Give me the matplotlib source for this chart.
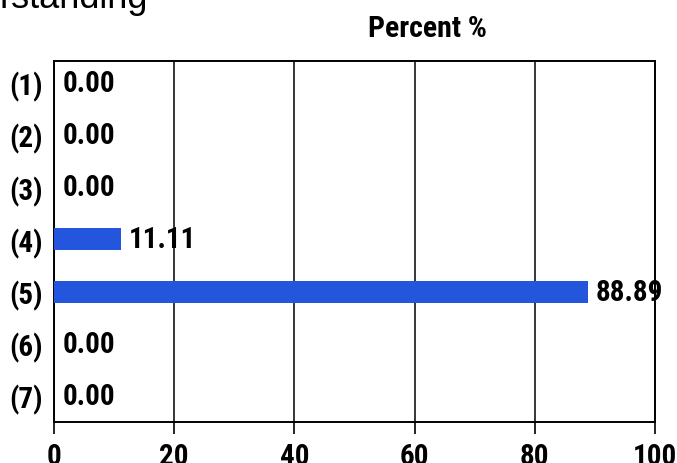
import numpy as np
import matplotlib
matplotlib.use('Agg')
import matplotlib.pyplot as plt
from matplotlib import font_manager

# data
categories = ['(1)', '(2)', '(3)', '(4)', '(5)', '(6)', '(7)']
percent = [0.00, 0.00, 0.00, 11.11, 88.89, 0.00, 0.00]
x_ticks = [0, 20, 40, 60, 80, 100]

# pick a narrow bold face, the chart uses one
names = {f.name for f in font_manager.fontManager.ttflist}
narrow = 'DejaVu Sans'
for cand in ['Arial Narrow', 'Liberation Sans Narrow', 'Roboto Condensed',
             'Archivo Narrow', 'PT Sans Narrow', 'Asap Condensed']:
    if cand in names:
        narrow = cand
        break

fig = plt.figure(figsize=(6.77, 4.64), dpi=100)
W, H = 677, 464
ax = fig.add_axes([54 / W, 1 - 423 / H, (655 - 54) / W, (423 - 62) / H])

y = np.arange(len(categories))
ax.barh(y, percent, height=0.42, color='#2356dc', zorder=3)

ax.set_xlim(0, 100)
ax.set_ylim(6.5, -0.42)
ax.set_xticks(x_ticks)
ax.set_xticklabels([str(t) for t in x_ticks], fontfamily=narrow, fontweight='bold', fontsize=21)
ax.set_yticks(y)
ax.set_yticklabels(categories, fontfamily=narrow, fontweight='bold', fontsize=21)
ax.tick_params(axis='x', direction='out', length=8.6, width=1.2, pad=5.5)
ax.tick_params(axis='y', length=0, pad=8)
ax.xaxis.grid(True, color='black', linewidth=1.1, zorder=1)
for s in ax.spines.values():
    s.set_linewidth(1.4)
    s.set_color('black')

for yi, v in zip(y, percent):
    off = 5 if v > 50 else 6
    ax.annotate(f'{v:.2f}', xy=(v, yi), xytext=(off, 0), textcoords='offset points',
                ha='left', va='center', fontfamily=narrow, fontweight='bold',
                fontsize=21, zorder=4)

fig.text(428 / W, 1 - 37 / H, 'Percent %', ha='center', va='baseline',
         fontfamily=narrow, fontweight='bold', fontsize=21.5)
fig.text(0, 1 - 8 / H, 'rstanding', ha='left', va='baseline',
         fontfamily='Liberation Sans', fontsize=26)

fig.savefig('out.png', dpi=100)
